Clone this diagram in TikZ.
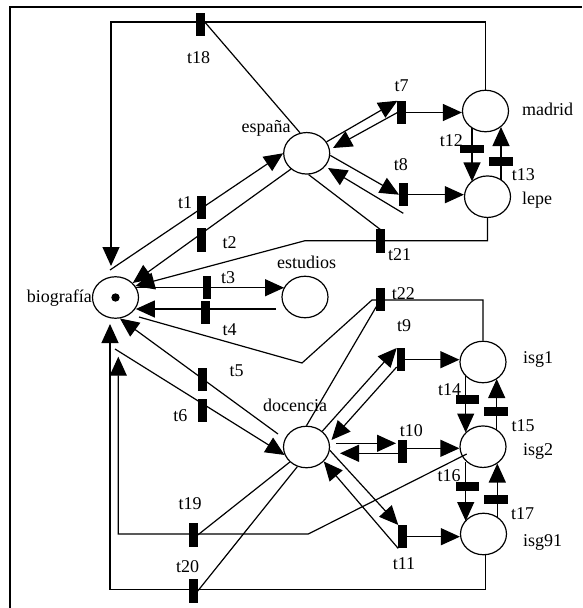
\documentclass[tikz,border=0pt]{standalone}
\usepackage{fontspec}
\setmainfont{Liberation Serif}
\usetikzlibrary{arrows.meta,shapes.geometric}
\begin{document}
\begin{tikzpicture}[x=1pt,y=-1pt,
  place/.style={draw,ellipse,line width=1.2pt,minimum width=46pt,minimum height=41.5pt,inner sep=0pt},
  vtrans/.style={fill=black,minimum width=8.5pt,minimum height=23.5pt,inner sep=0pt,outer sep=0pt},
  htrans/.style={fill=black,minimum width=23.5pt,minimum height=8.5pt,inner sep=0pt,outer sep=0pt},
  lbl/.style={font=\fontsize{18}{20}\selectfont,inner sep=0pt,anchor=base},
  arc/.style={line width=1.2pt},
  tip/.style={arc,-{Triangle[length=19pt,width=17pt]}}
]
\useasboundingbox (0,0) rectangle (582,608);
\draw[line width=1.8pt] (10,608) -- (10,7) -- (582,7);

% places
\node[place] (bio) at (115.5,297.5) {};
\fill (bio) circle (4.2pt);
\node[place] (esp) at (306.7,153.3) {};
\node[place] (mad) at (485.5,111) {};
\node[place] (lep) at (487.5,196.7) {};
\node[place] (est) at (305,297) {};
\node[place] (doc) at (306.5,447) {};
\node[place] (i1) at (483,362) {};
\node[place] (i2) at (483,446.7) {};
\node[place] (i91) at (483.5,534) {};

% transitions
\node[vtrans] (t18) at (200.5,24.7) {};
\node[vtrans] (t1) at (201.5,207.7) {};
\node[vtrans] (t2) at (201.5,239.8) {};
\node[vtrans] (t3) at (206.8,287.7) {};
\node[vtrans] (t4) at (205.5,312.7) {};
\node[vtrans] (t5) at (202.5,379.7) {};
\node[vtrans] (t6) at (202.5,410.7) {};
\node[vtrans] (t19) at (193.5,535) {};
\node[vtrans] (t20) at (193.5,591) {};
\node[vtrans] (t7) at (401.7,112.5) {};
\node[vtrans] (t8) at (403.3,194.7) {};
\node[vtrans] (t21) at (380.3,241.2) {};
\node[vtrans] (t22) at (380.5,299.5) {};
\node[vtrans] (t9) at (401,359.7) {};
\node[vtrans] (t10) at (402.5,451.7) {};
\node[vtrans] (t11) at (402.5,536.7) {};
\node[htrans] (t12) at (472,149.2) {};
\node[htrans] (t13) at (500.8,161.7) {};
\node[htrans] (t14) at (467.5,399.7) {};
\node[htrans] (t15) at (496,411.7) {};
\node[htrans] (t16) at (467.5,486.7) {};
\node[htrans] (t17) at (496,499.7) {};

% labels
\node[lbl] (l18) at (198.7,63) {t18};
\node[lbl] (l1) at (185,208) {t1};
\node[lbl] (l2) at (229.7,248) {t2};
\node[lbl] (lesp) at (266,132.3) {españa};
\node[lbl] (lest) at (306.7,268.3) {estudios};
\node[lbl] (l3) at (228,283.3) {t3};
\node[lbl] (l4) at (229.5,335) {t4};
\node[lbl] (l21) at (399.5,260) {t21};
\node[lbl] (l22) at (403.3,299.3) {t22};
\node[lbl] (l7) at (401.7,91.7) {t7};
\node[lbl] (l8) at (400.8,170) {t8};
\node[lbl,anchor=base west] (lmad) at (522,115) {madrid};
\node[lbl] (l12) at (451.3,146) {t12};
\node[lbl] (l13) at (523.3,180) {t13};
\node[lbl,anchor=base west] (llep) at (522,204) {lepe};
\node[lbl,anchor=base east] (lbio) at (92,302.7) {biografía};
\node[lbl] (l5) at (236.7,376.7) {t5};
\node[lbl] (l6) at (180.3,421.7) {t6};
\node[lbl] (ldoc) at (295,411) {docencia};
\node[lbl] (l19) at (190,509.3) {t19};
\node[lbl] (l20) at (187.5,572.7) {t20};
\node[lbl] (l9) at (404,331) {t9};
\node[lbl,anchor=base west] (li1) at (523,363.3) {isg1};
\node[lbl] (l14) at (449.5,395) {t14};
\node[lbl] (l15) at (523,431) {t15};
\node[lbl] (l10) at (411.3,436.7) {t10};
\node[lbl,anchor=base west] (li2) at (523,455) {isg2};
\node[lbl] (l16) at (449,481.7) {t16};
\node[lbl] (l17) at (522.5,519) {t17};
\node[lbl,anchor=base west] (li91) at (523,546.7) {isg91};
\node[lbl] (l11) at (404,569.3) {t11};

% t18
\draw[tip] (mad.north) |- (111,22) -- (111,266);
\draw[arc] (esp.108) -- (t18.east |- 0,22);
% t1, t2
\draw[tip] (110,270) -- (esp.west);
\draw[tip] (esp.225) -- (bio.40);
% t21
\draw[arc] (esp.-85) -- (t21.north);
\draw[tip] (lep.south) |- (305,240.7) -- (bio.30);
% t3, t4
\draw[tip] (bio.25) -- (bio.25 -| est.155);
\coordinate (c4) at (276,309);
\draw[tip] (c4) -- (c4 -| bio.-28);
% t22
\draw[arc] (i1.north) |- (372,300) -- (302,363) -- (139,317);
\draw[arc] (doc.north) -- (t22);
% t5, t6
\draw[tip] (278,434) -- (bio.-78);
\draw[tip] (115,349) -- (doc.-160);
% t19
\draw[tip] (466.7,454) -- (308.3,534) -- (118.3,534) -- (118.3,356.7);
\draw[arc] (doc.-138) -- (t19.east);
% t20
\draw[tip] (i91.-85) |- (110,589.3) -- (110,324);
\draw[arc] (doc.-115) -- (t20.east);
% t7
\draw[tip] (esp.30) -- (t7.north west);
\draw[tip] (t7.west) -- (333,148);
\draw[tip] (t7.east) -- (t7.east -| mad.west);
% t8
\draw[tip] (esp.-5) -- (t8.west);
\draw[tip] (403.3,213.3) -- (328,168);
\draw[tip] (t8.east) -- (t8.east -| lep.west);
% t9
\draw[tip] (doc.45) -- (t9.north west);
\draw[tip] (396.7,367) -- (331.5,440);
\draw[tip] (t9.east) -- (t9.east -| i1.west);
% t10
\draw[tip] (336,443.3) -- (396,443.3);
\draw[tip] (t10.west |- 0,453.3) -- (340,453.3);
\draw[tip] (t10.east |- 0,448.3) -- (i2.west |- 0,448.3);
% t11
\draw[tip] (doc.-8) -- (t11.north west);
\draw[tip] (t11.south west) -- (doc.-40);
\draw[tip] (t11.east) -- (t11.east -| i91.west);
% t12, t13
\draw[tip] (472,127.8) -- (472,181.4);
\draw[tip] (501,180) -- (501,127);
% t14 - t17
\draw[tip] (465.7,376) -- (465.7,432.5);
\draw[tip] (496.7,430) -- (496.7,379);
\draw[tip] (465.7,462) -- (465.7,521);
\draw[tip] (497.3,517.4) -- (497.3,463.5);
\end{tikzpicture}
\end{document}
